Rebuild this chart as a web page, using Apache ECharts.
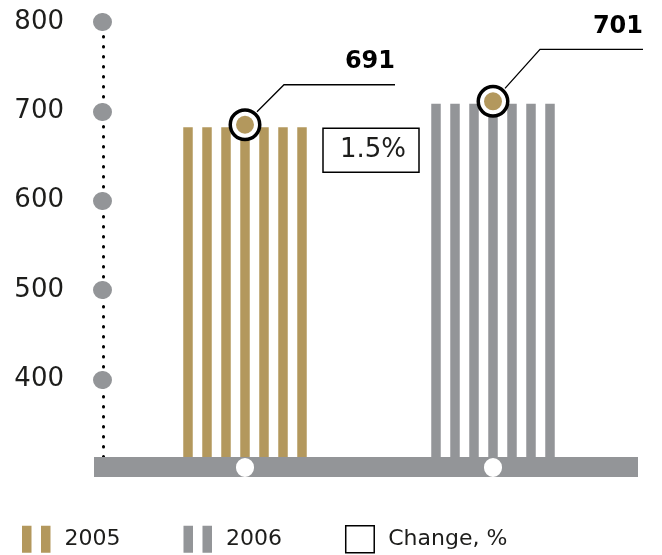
<!DOCTYPE html>
<html>
<head>
<meta charset="utf-8">
<script src="https://cdn.jsdelivr.net/npm/echarts@6/dist/echarts.min.js"></script>
<style>
  html, body { margin: 0; padding: 0; background: #fff; }
  #chart { width: 662px; height: 555px; }
</style>
</head>
<body>
<div id="chart"></div>
<script>
// data
var years = ["2005", "2006"];
var values = [691, 701];
var changePct = 1.5;
var tickLabels = [400, 500, 600, 700, 800];

var GOLD = "#b3985d";
var GREY = "#939598";
var INK = "#1d1d1b";
var FONT = "DejaVu Sans";
var STRIPES = 7;

var chart = echarts.init(document.getElementById("chart"));

// each year's bar is drawn as 7 thin stripes
var stripeSeries = [];
for (var i = 0; i < STRIPES; i++) {
  stripeSeries.push({
    type: "bar",
    xAxisIndex: 1,
    yAxisIndex: 1,
    barWidth: 9.5,
    barGap: "100%",
    silent: true,
    z: 2,
    data: values.map(function (v, k) {
      return { value: v, itemStyle: { color: k === 0 ? GOLD : GREY } };
    })
  });
}

var ringIndex = stripeSeries.length;

var option = {
  animation: false,
  grid: [
    { left: 94, right: 24, top: 22, bottom: 98 },
    { left: 121, right: 45, top: 22, bottom: 98 }
  ],
  xAxis: [
    {
      // base strip
      gridIndex: 0,
      type: "value",
      min: 0,
      max: 1,
      offset: 10,
      axisLine: { show: true, onZero: false, lineStyle: { color: GREY, width: 20, cap: "butt" } },
      axisTick: { show: false },
      axisLabel: { show: false },
      splitLine: { show: false }
    },
    {
      gridIndex: 1,
      type: "category",
      data: years,
      offset: 10,
      z: 5,
      axisLine: { show: false },
      axisLabel: { show: false },
      axisTick: {
        show: true,
        alignWithLabel: true,
        length: 1,
        lineStyle: { color: "#fff", width: 18, cap: "round" }
      },
      splitLine: { show: false }
    }
  ],
  yAxis: [
    {
      gridIndex: 0,
      type: "value",
      min: 313,
      max: 800,
      offset: -9,
      axisLine: {
        show: true,
        onZero: false,
        lineStyle: { color: "#000", width: 3, type: [0.5, 9.5], cap: "round" }
      },
      axisTick: {
        show: true,
        customValues: tickLabels,
        length: 1,
        lineStyle: { color: GREY, width: 18, cap: "round" }
      },
      axisLabel: {
        customValues: tickLabels,
        margin: 39,
        color: INK,
        fontFamily: FONT,
        fontSize: 26
      },
      splitLine: { show: false }
    },
    {
      gridIndex: 1,
      type: "value",
      min: 550,
      max: 736,
      show: false,
      splitLine: { show: false }
    }
  ],
  legend: {
    left: 17,
    top: 520,
    itemWidth: 28.5,
    itemHeight: 27,
    itemGap: 63,
    selectedMode: false,
    textStyle: { color: INK, fontFamily: FONT, fontSize: 22, padding: [0, 0, 0, 9] },
    data: [
      { name: "2005", icon: "path://M0,0h9.5v27h-9.5z M19,0h9.5v27h-9.5z" },
      { name: "2006", icon: "path://M0,0h9.5v27h-9.5z M19,0h9.5v27h-9.5z" },
      { name: "Change, %", icon: "rect", itemStyle: { color: "#fff", borderColor: "#000", borderWidth: 1.5, opacity: 1 } }
    ]
  },
  series: stripeSeries.concat([
    {
      type: "scatter",
      xAxisIndex: 1,
      yAxisIndex: 1,
      symbolSize: 29.5,
      symbolOffset: [0, -2.5],
      z: 4,
      silent: true,
      itemStyle: { color: "#fff", borderColor: "#000", borderWidth: 3.5, opacity: 1 },
      data: values
    },
    {
      type: "scatter",
      xAxisIndex: 1,
      yAxisIndex: 1,
      symbolSize: 18,
      symbolOffset: [0, -2.5],
      z: 5,
      silent: true,
      itemStyle: { color: GOLD, opacity: 1 },
      data: values
    },
    // legend-only entries
    { name: "2005", type: "scatter", xAxisIndex: 1, yAxisIndex: 1, itemStyle: { color: GOLD, opacity: 1 }, data: [] },
    { name: "2006", type: "scatter", xAxisIndex: 1, yAxisIndex: 1, itemStyle: { color: GREY, opacity: 1 }, data: [] },
    { name: "Change, %", type: "scatter", xAxisIndex: 1, yAxisIndex: 1, itemStyle: { color: "#fff", borderColor: "#000", borderWidth: 1.5, opacity: 1 }, data: [] }
  ])
};

option && chart.setOption(option);

// leader lines with value callouts, plus the change box
var leaderRise = [40, 52];
var leaderRun = [39, 47];
var leaderLen = 150;
var graphics = [];
var centers = values.map(function (v, k) {
  var p = chart.convertToPixel({ seriesIndex: ringIndex }, [k, v]);
  return [p[0], p[1] - 2.5];
});

centers.forEach(function (c, k) {
  var ey = c[1] - leaderRise[k];
  graphics.push({
    type: "polyline",
    silent: true,
    z: 10,
    shape: { points: [[c[0] + 12, c[1] - 13], [c[0] + leaderRun[k], ey], [c[0] + leaderLen, ey]] },
    style: { stroke: "#000", lineWidth: 1.3, fill: null }
  });
  graphics.push({
    type: "text",
    silent: true,
    z: 10,
    x: c[0] + leaderLen,
    y: ey - 23,
    style: {
      text: String(values[k]),
      font: "bold 24px '" + FONT + "'",
      fill: "#000",
      align: "right",
      verticalAlign: "middle"
    }
  });
});

var midX = (centers[0][0] + centers[1][0]) / 2;
graphics.push({
  type: "rect",
  silent: true,
  z: 10,
  shape: { x: midX - 46, y: centers[0][1] + 3.5, width: 96, height: 44 },
  style: { fill: "#fff", stroke: "#000", lineWidth: 1.5 }
});
graphics.push({
  type: "text",
  silent: true,
  z: 11,
  x: midX + 4,
  y: centers[0][1] + 25.5,
  style: {
    text: changePct.toFixed(1) + "%",
    font: "26px '" + FONT + "'",
    fill: INK,
    align: "center",
    verticalAlign: "middle"
  }
});

chart.setOption({ graphic: graphics });

window.addEventListener("resize", chart.resize);
</script>
</body>
</html>
